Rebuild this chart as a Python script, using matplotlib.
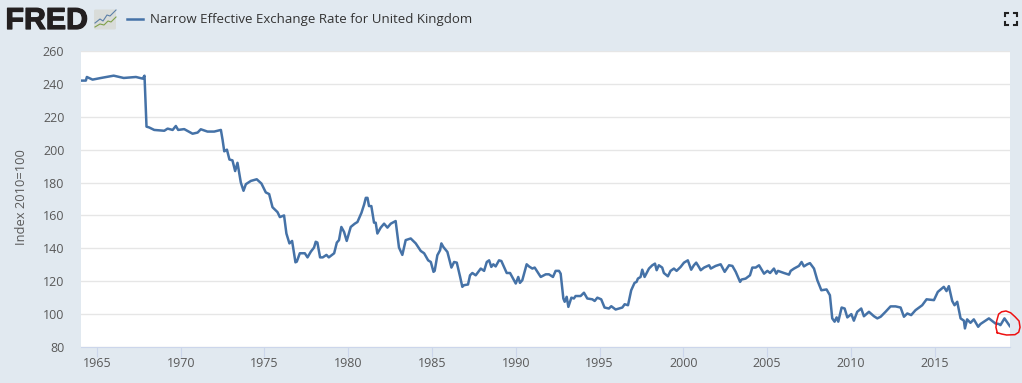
import numpy as np
import matplotlib
matplotlib.use('Agg')
import matplotlib.pyplot as plt
import matplotlib.patheffects as pe
from matplotlib.patches import FancyBboxPatch

plt.rcParams['font.family'] = ['Open Sans', 'DejaVu Sans']

# Series: decimal year, index value
years = [1964.10, 1964.34, 1964.40, 1964.74, 1965.24, 1966.00, 1966.60, 1967.33, 1967.73, 1967.84, 1967.96,
         1968.12, 1968.42, 1969.02, 1969.22, 1969.52, 1969.71, 1969.85, 1970.21, 1970.71, 1971.01, 1971.20,
         1971.60, 1972.00, 1972.40, 1972.50, 1972.60, 1972.76, 1972.91, 1973.09, 1973.25, 1973.39, 1973.59,
         1973.75, 1973.89, 1974.19, 1974.54, 1974.82, 1975.08, 1975.28, 1975.48, 1975.78, 1975.92, 1976.17,
         1976.31, 1976.49, 1976.65, 1976.85, 1976.93, 1977.11, 1977.41, 1977.57, 1977.77, 1977.96, 1978.06,
         1978.16, 1978.32, 1978.48, 1978.70, 1978.84, 1979.16, 1979.32, 1979.45, 1979.59, 1979.75, 1979.91,
         1980.15, 1980.39, 1980.55, 1980.79, 1980.95, 1981.05, 1981.15, 1981.24, 1981.38, 1981.54, 1981.64,
         1981.74, 1981.94, 1982.14, 1982.34, 1982.54, 1982.83, 1983.03, 1983.23, 1983.43, 1983.73, 1984.03,
         1984.33, 1984.53, 1984.77, 1984.93, 1985.09, 1985.16, 1985.32, 1985.48, 1985.56, 1985.68, 1985.92,
         1986.16, 1986.32, 1986.48, 1986.68, 1986.81, 1986.91, 1987.15, 1987.27, 1987.41, 1987.61, 1987.91,
         1988.11, 1988.27, 1988.41, 1988.54, 1988.66, 1988.80, 1989.00, 1989.14, 1989.46, 1989.66, 1990.00,
         1990.15, 1990.25, 1990.39, 1990.65, 1990.79, 1990.99, 1991.13, 1991.49, 1991.79, 1991.98, 1992.22,
         1992.38, 1992.58, 1992.68, 1992.84, 1992.92, 1993.04, 1993.14, 1993.32, 1993.47, 1993.57, 1993.87,
         1994.07, 1994.27, 1994.57, 1994.71, 1994.87, 1995.10, 1995.30, 1995.56, 1995.70, 1995.96, 1996.36,
         1996.50, 1996.70, 1996.89, 1997.09, 1997.21, 1997.29, 1997.45, 1997.55, 1997.69, 1997.95, 1998.15,
         1998.31, 1998.41, 1998.54, 1998.74, 1998.84, 1999.08, 1999.24, 1999.44, 1999.60, 1999.84, 2000.04,
         2000.27, 2000.47, 2000.63, 2000.77, 2000.93, 2001.04, 2001.24, 2001.54, 2001.64, 2001.93, 2002.23,
         2002.47, 2002.73, 2002.93, 2003.13, 2003.39, 2003.47, 2003.72, 2003.98, 2004.12, 2004.32, 2004.52,
         2004.82, 2005.02, 2005.18, 2005.41, 2005.55, 2005.65, 2006.01, 2006.31, 2006.41, 2006.61, 2006.90,
         2007.06, 2007.20, 2007.40, 2007.56, 2007.80, 2008.00, 2008.24, 2008.55, 2008.75, 2008.89, 2009.03,
         2009.15, 2009.25, 2009.45, 2009.63, 2009.79, 2010.03, 2010.18, 2010.38, 2010.62, 2010.78, 2011.08,
         2011.38, 2011.58, 2011.78, 2012.07, 2012.37, 2012.67, 2012.97, 2013.17, 2013.37, 2013.60, 2013.86,
         2014.26, 2014.52, 2014.96, 2015.19, 2015.55, 2015.71, 2015.85, 2016.05, 2016.19, 2016.35, 2016.55,
         2016.75, 2016.81, 2016.94, 2017.14, 2017.34, 2017.60, 2017.74, 2018.24, 2018.63, 2018.83, 2018.93,
         2019.17, 2019.49]
rate = [242, 242, 244.2, 242.6, 243.6, 245, 243.6, 244.2, 243.2, 245, 214,
        213.5, 212, 211.5, 212.8, 212, 214.4, 212, 212.5, 209.7, 210.4, 212.4,
        211, 211, 212, 206, 199, 200, 194, 193.5, 187, 192, 180,
        175, 179, 181, 182, 179.4, 174, 173, 165, 162, 159, 160,
        149, 143, 144.5, 131.5, 131.9, 137, 137, 134.5, 138, 140.5, 144,
        143.5, 134.5, 134.5, 136, 134.5, 137, 143.5, 145, 153, 150, 144.5,
        153, 155, 156, 161.6, 166.7, 170.7, 170.7, 165.7, 165.7, 155.6, 155.6,
        149, 152.6, 155, 152.6, 155, 156.6, 140.5, 136, 145, 146, 143,
        138.4, 137, 132.7, 131.7, 125.7, 126.3, 135.8, 138.8, 143, 140.8, 137.8,
        128.3, 131.7, 131.3, 122.6, 116.6, 117.6, 118, 123.6, 125, 123.6, 127.7,
        126.3, 131.7, 132.7, 128.7, 130.3, 129, 132.7, 132.3, 125, 125, 118.6,
        122.6, 119, 120.6, 130.3, 129, 127.7, 128.3, 122.6, 124.2, 124.2, 122.6,
        126.3, 126.3, 124.6, 109.5, 107.5, 110.5, 104.4, 110, 109.5, 111, 111,
        113, 109.5, 109, 108, 110, 109, 104, 103.4, 104.8, 102.8, 104,
        106, 105.4, 114.5, 119, 119.6, 121.6, 122.6, 127, 122.6, 127.7, 129.7,
        130.7, 126.7, 129.7, 128.3, 125, 123, 126.3, 127.7, 126.3, 128.7, 131.3,
        132.7, 127, 129.7, 131.3, 128.7, 126.7, 128.3, 129.7, 127.7, 129.3, 130.3,
        125.7, 129.7, 129.3, 125.7, 119.6, 121, 121.6, 123.6, 128.3, 128.3, 129.7,
        124.6, 126.3, 125, 127.7, 124.6, 126.3, 125, 124, 126.3, 127.7, 129.3,
        131.7, 129, 130.3, 131, 127.7, 120.6, 114.5, 115, 111.5, 97.4, 95.4,
        98, 95.4, 104, 103.4, 98, 100, 96, 101.4, 103.4, 98.7, 101.4,
        98.7, 97.4, 98.4, 101.4, 104.7, 104.7, 104, 98.4, 100.4, 99.4, 102.4,
        105.4, 109, 108.5, 113.5, 116.6, 114, 117, 108, 105.4, 107.5, 97.4,
        96, 91.3, 96.8, 94.7, 96.8, 92.3, 94, 97.4, 94.3, 94, 93.3,
        97.4, 92.7]

y_ticks = [80, 100, 120, 140, 160, 180, 200, 220, 240, 260]
x_ticks = [1965, 1970, 1975, 1980, 1985, 1990, 1995, 2000, 2005, 2010, 2015]

# hand drawn red ring round the last months
ring_x = [2018.74, 2018.66, 2018.70, 2018.82, 2019.00, 2019.26, 2019.54, 2019.80, 2020.04,
          2020.10, 2020.02, 2019.80, 2019.30, 2019.00, 2018.74]
ring_y = [88.7, 92, 95.6, 100, 101.4, 101.9, 100.8, 98.4, 95.8,
          92, 89, 87.5, 87.3, 87.9, 88.7]

W, H = 1022, 383
bg = '#e1e9f0'
blue = '#4572a7'
grey = '#595959'

fig = plt.figure(figsize=(W / 100, H / 100), dpi=100, facecolor=bg)
ax = fig.add_axes([81 / W, 1 - 347 / H, (1010 - 81) / W, (347 - 51) / H])
ax.set_xlim(1964.05, 2019.5)
ax.set_ylim(80, 260)
ax.plot(years, rate, color=blue, lw=1.8, solid_joinstyle='round')
ax.plot(ring_x, ring_y, color='#ee1111', lw=1.1, clip_on=False)

ax.set_yticks(y_ticks)
ax.set_xticks(x_ticks)
ax.set_xticklabels([str(v) for v in x_ticks])
ax.grid(axis='y', color='#e6e6e6', lw=1)
ax.set_axisbelow(True)
ax.tick_params(axis='y', length=0, pad=12, labelsize=9, labelcolor=grey)
ax.tick_params(axis='x', length=7, width=0.8, color='#ccd6eb', pad=0.5, labelsize=9, labelcolor=grey)
for s in ['top', 'left', 'right']:
    ax.spines[s].set_visible(False)
ax.spines['bottom'].set_color('#ccd6eb')
ax.set_ylabel('Index 2010=100', fontsize=9.3, color=grey, va='center')
ax.yaxis.set_label_coords((22 - 81) / (1010 - 81), 0.5 + 2 / 296)

# header, positions in pixels of the figure
ov = fig.add_axes([0, 0, 1, 1], facecolor='none')
ov.set_xlim(0, W)
ov.set_ylim(H, 0)
ov.axis('off')
ov.text(5.5, 29, 'FRED', fontsize=21.8, fontweight='bold', color='#231f20', family='Liberation Sans',
        path_effects=[pe.withStroke(linewidth=0.9, foreground='#231f20')])
ov.add_patch(FancyBboxPatch((94, 9.5), 22, 20, boxstyle='round,pad=0,rounding_size=1.5',
                            fc='#d9dcd9', ec='none'))
ov.plot([95, 100, 103, 107, 110, 116], [23, 19, 21, 15, 16, 10], color='#5b7fa8', lw=0.8)
ov.plot([95, 100, 104, 108, 111, 116], [27, 24, 25, 21, 22, 17], color='#7fa04a', lw=0.8)
ov.plot([127, 143], [19, 19], color=blue, lw=1.8)
ov.text(150, 19, 'Narrow Effective Exchange Rate for United Kingdom', fontsize=9.55,
        color='#333333', va='center')

# full screen icon, four corners
for cx, cy, dx, dy in [(1005, 13, 1, 1), (1017, 13, -1, 1), (1005, 24.5, 1, -1), (1017, 24.5, -1, -1)]:
    ov.plot([cx + 3 * dx, cx, cx], [cy, cy, cy + 3 * dy], color='#222222', lw=1.5,
            solid_joinstyle='miter')

fig.savefig('out.png', dpi=100, facecolor=bg)
